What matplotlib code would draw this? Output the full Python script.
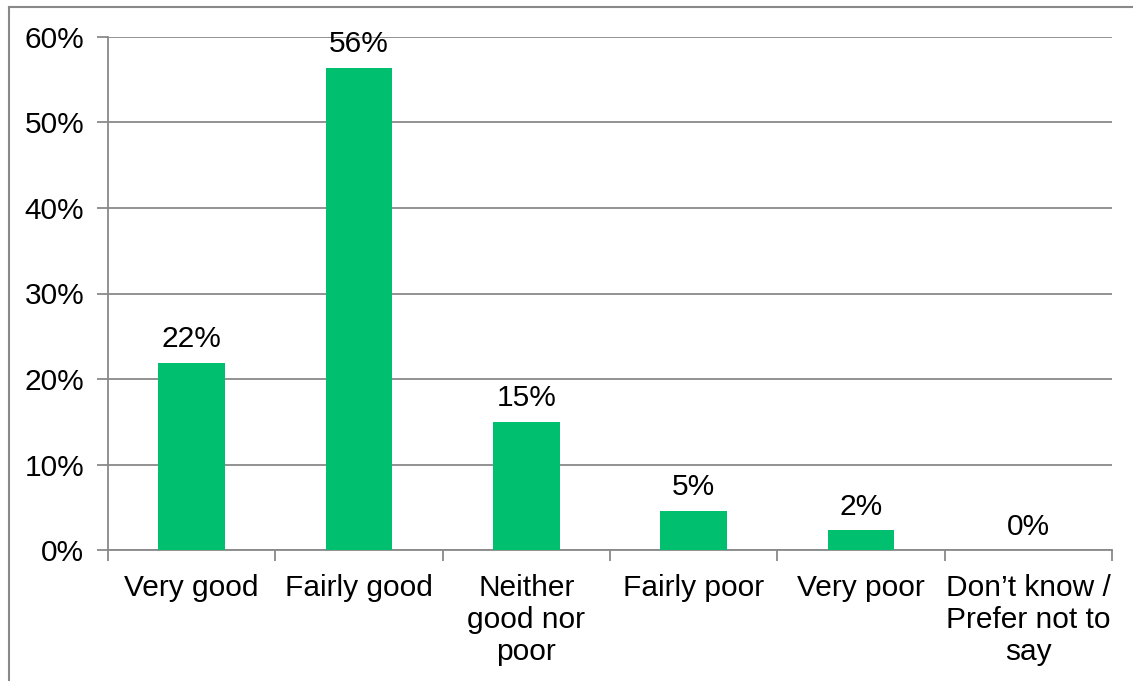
import matplotlib
matplotlib.use("Agg")
import matplotlib.pyplot as plt
from matplotlib.lines import Line2D
import numpy as np

categories = ["Very good", "Fairly good", "Neither\ngood nor\npoor", "Fairly poor", "Very poor", "Don\u2019t know /\nPrefer not to\nsay"]
values = [21.9, 56.4, 15.0, 4.6, 2.3, 0.0]
labels = ["22%", "56%", "15%", "5%", "2%", "0%"]
yticks = [0, 10, 20, 30, 40, 50, 60]
ytick_labels = ["0%", "10%", "20%", "30%", "40%", "50%", "60%"]

plt.rcParams['font.family'] = ['Liberation Sans', 'DejaVu Sans']
W, H = 1133, 681
fig = plt.figure(figsize=(W/100, H/100), dpi=100)
ax = fig.add_axes([108/W, 1-550/H, (1112-108)/W, (550-37)/H])

gray = "#898989"
green = "#00BF6F"
fs = 21.5
x = np.arange(len(categories))
ax.bar(x, values, width=0.4, color=green, zorder=3)
for xi, v, lab in zip(x, values, labels):
    ax.text(xi, v + 1.1, lab, ha="center", va="bottom", fontsize=fs, color="black")

ax.set_xlim(-0.5, len(categories) - 0.5)
ax.set_ylim(0, 60)
ax.set_yticks(yticks)
ax.set_yticklabels(ytick_labels, fontsize=fs)
ax.yaxis.grid(True, color=gray, linewidth=1.3, zorder=0)
ax.set_axisbelow(True)
ax.set_xticks(x)
ax.set_xticklabels(categories, fontsize=fs, linespacing=1.2)
ax.tick_params(axis="x", which="major", length=0, pad=17)
ax.set_xticks(np.arange(-0.5, len(categories), 1.0), minor=True)
ax.tick_params(axis="x", which="minor", length=8, width=1.3, color=gray)
ax.tick_params(axis="y", length=8, width=1.3, color=gray, pad=9)
for s in ["top", "right"]:
    ax.spines[s].set_visible(False)
for s in ["left", "bottom"]:
    ax.spines[s].set_color(gray)
    ax.spines[s].set_linewidth(1.3)

# figure border
fig.add_artist(Line2D([8.5/W, 8.5/W], [0, 1-6.5/H], transform=fig.transFigure, color=gray, linewidth=1.5))
fig.add_artist(Line2D([8.5/W, 1], [1-6.5/H, 1-6.5/H], transform=fig.transFigure, color=gray, linewidth=1.5))

fig.savefig("out.png", dpi=100)
